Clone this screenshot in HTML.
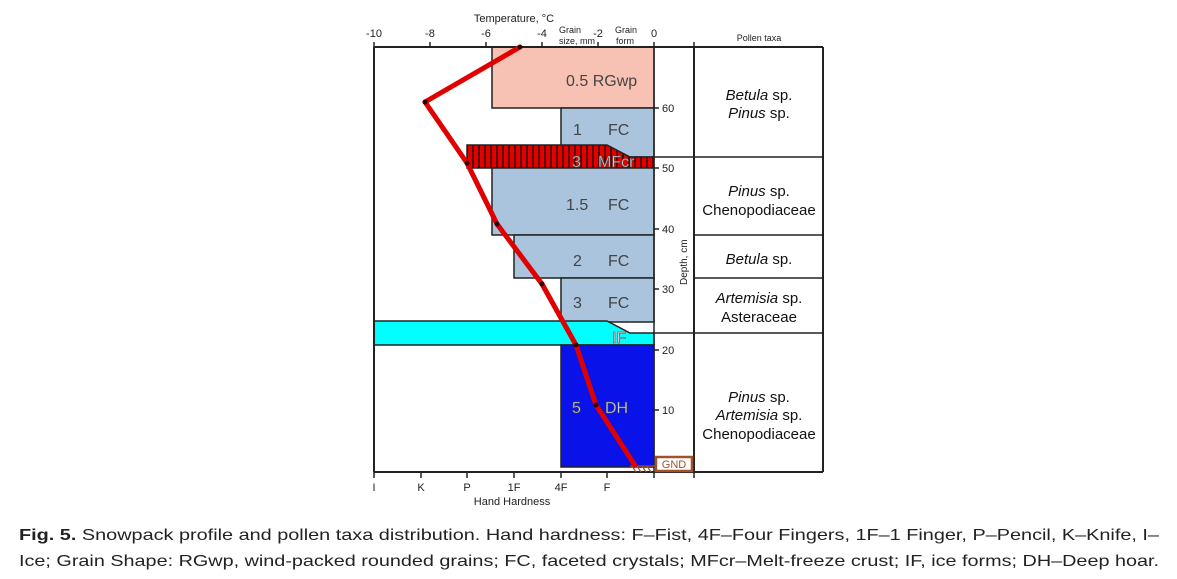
<!DOCTYPE html>
<html><head><style>
html,body{margin:0;padding:0;background:#fff;width:1177px;height:579px;overflow:hidden}
svg{display:block}
text{font-family:"Liberation Sans",Arial,sans-serif}
</style></head><body>
<svg width="1177" height="579" viewBox="0 0 1177 579" xmlns="http://www.w3.org/2000/svg">
<defs>
<pattern id="st" width="6" height="10" patternUnits="userSpaceOnUse">
<rect width="6" height="10" fill="#e00000"/><rect x="4" width="2" height="10" fill="#5a0000"/>
</pattern>
</defs>
<rect x="492" y="47" width="162" height="61" fill="#f7c2b3" stroke="#222" stroke-width="1.5"/>
<rect x="561" y="108" width="93" height="49" fill="#a9c4dc" stroke="#222" stroke-width="1.5"/>
<polygon points="467,145 607,145 630,157 654,157 654,168 467,168" fill="url(#st)" stroke="#222" stroke-width="1.5"/>
<rect x="492" y="168" width="162" height="67" fill="#a9c4dc" stroke="#222" stroke-width="1.5"/>
<rect x="514" y="235" width="140" height="43" fill="#a9c4dc" stroke="#222" stroke-width="1.5"/>
<rect x="561" y="278" width="93" height="44" fill="#a9c4dc" stroke="#222" stroke-width="1.5"/>
<polygon points="374,321 607,321 630,333 654,333 654,345 374,345" fill="#00ffff" stroke="#222" stroke-width="1.5"/>
<rect x="561" y="345" width="93" height="122" fill="#0a12ea" stroke="#222" stroke-width="1.5"/>
<line x1="374" y1="47" x2="823" y2="47" stroke="#222" stroke-width="2"/>
<line x1="374" y1="47" x2="374" y2="472" stroke="#222" stroke-width="2"/>
<line x1="374" y1="472" x2="823" y2="472" stroke="#222" stroke-width="2"/>
<line x1="654" y1="47" x2="654" y2="472" stroke="#222" stroke-width="1.5"/>
<line x1="694" y1="47" x2="694" y2="472" stroke="#222" stroke-width="2"/>
<line x1="823" y1="47" x2="823" y2="472" stroke="#222" stroke-width="2"/>
<g stroke="#222" stroke-width="1.5">
<line x1="694" y1="157" x2="823" y2="157"/><line x1="694" y1="235" x2="823" y2="235"/>
<line x1="694" y1="278" x2="823" y2="278"/><line x1="694" y1="333" x2="823" y2="333"/>
<line x1="654" y1="157" x2="694" y2="157"/><line x1="654" y1="333" x2="694" y2="333"/>
<line x1="374" y1="42" x2="374" y2="47"/><line x1="430" y1="42" x2="430" y2="47"/><line x1="486" y1="42" x2="486" y2="47"/><line x1="542" y1="42" x2="542" y2="47"/><line x1="598" y1="42" x2="598" y2="47"/><line x1="654" y1="42" x2="654" y2="47"/><line x1="694" y1="42" x2="694" y2="47"/>
<line x1="374" y1="472" x2="374" y2="478"/><line x1="421" y1="472" x2="421" y2="478"/><line x1="467" y1="472" x2="467" y2="478"/><line x1="514" y1="472" x2="514" y2="478"/><line x1="561" y1="472" x2="561" y2="478"/><line x1="607" y1="472" x2="607" y2="478"/><line x1="654" y1="472" x2="654" y2="478"/><line x1="694" y1="472" x2="694" y2="478"/>
<line x1="654" y1="108" x2="659" y2="108"/><line x1="654" y1="168" x2="659" y2="168"/><line x1="654" y1="229" x2="659" y2="229"/><line x1="654" y1="289" x2="659" y2="289"/><line x1="654" y1="350" x2="659" y2="350"/><line x1="654" y1="410" x2="659" y2="410"/>
</g>
<rect x="656" y="457" width="36" height="14" fill="#fff" stroke="#a0522d" stroke-width="2.5"/>
<text x="674" y="468" font-size="11" fill="#a0522d" text-anchor="middle">GND</text>
<g stroke="#a0522d" stroke-width="1.2"><line x1="632" y1="466" x2="636" y2="472"/><line x1="637" y1="466" x2="641" y2="472"/><line x1="642" y1="466" x2="646" y2="472"/><line x1="647" y1="466" x2="651" y2="472"/><line x1="630" y1="466" x2="656" y2="466"/></g>
<polyline points="520,47 425,102 467,163 497,224 542,284 576,345 596,405 636,467" fill="none" stroke="#e00000" stroke-width="5" stroke-linejoin="round"/>
<g fill="#300"><circle cx="520" cy="47" r="2.5"/><circle cx="425" cy="102" r="2.5"/><circle cx="467" cy="163" r="2.5"/><circle cx="497" cy="224" r="2.5"/><circle cx="542" cy="284" r="2.5"/><circle cx="576" cy="345" r="2.5"/><circle cx="596" cy="405" r="2.5"/></g>
<g font-size="16" fill="#444">
<text x="566" y="86">0.5 RGwp</text>
<text x="573" y="135">1</text><text x="608" y="135">FC</text>
<text x="566" y="210">1.5</text><text x="608" y="210">FC</text>
<text x="573" y="266">2</text><text x="608" y="266">FC</text>
<text x="573" y="308">3</text><text x="608" y="308">FC</text>
</g>
<g font-size="16" fill="#ddd" stroke="#555" stroke-width="0.6">
<text x="572" y="167">3</text><text x="598" y="167">MFcr</text>
<text x="612" y="343">IF</text>
<text x="572" y="413">5</text><text x="605" y="413">DH</text>
</g>
<g font-size="11" fill="#222" text-anchor="middle">
<text x="514" y="22">Temperature, °C</text>
<text x="374" y="37">-10</text><text x="430" y="37">-8</text><text x="486" y="37">-6</text><text x="542" y="37">-4</text><text x="598" y="37">-2</text><text x="654" y="37">0</text>
<text x="374" y="491">I</text><text x="421" y="491">K</text><text x="467" y="491">P</text><text x="514" y="491">1F</text><text x="561" y="491">4F</text><text x="607" y="491">F</text>
<text x="512" y="505">Hand Hardness</text>
<text x="759" y="41" font-size="9">Pollen taxa</text>
</g>
<g font-size="9" fill="#222" text-anchor="middle">
<text x="570" y="33">Grain</text><text x="577" y="44">size, mm</text>
<text x="626" y="33">Grain</text><text x="625" y="44">form</text>
</g>
<g font-size="11" fill="#222">
<text x="662" y="112">60</text><text x="662" y="172">50</text><text x="662" y="233">40</text><text x="662" y="293">30</text><text x="662" y="354">20</text><text x="662" y="414">10</text>
<text transform="translate(687,285) rotate(-90)" font-size="10">Depth, cm</text>
</g>
<g font-size="15" fill="#111" text-anchor="middle">
<text x="759" y="100"><tspan font-style="italic">Betula</tspan> sp.</text>
<text x="759" y="118"><tspan font-style="italic">Pinus</tspan> sp.</text>
<text x="759" y="196"><tspan font-style="italic">Pinus</tspan> sp.</text>
<text x="759" y="215">Chenopodiaceae</text>
<text x="759" y="264"><tspan font-style="italic">Betula</tspan> sp.</text>
<text x="759" y="303"><tspan font-style="italic">Artemisia</tspan> sp.</text>
<text x="759" y="322">Asteraceae</text>
<text x="759" y="402"><tspan font-style="italic">Pinus</tspan> sp.</text>
<text x="759" y="420"><tspan font-style="italic">Artemisia</tspan> sp.</text>
<text x="759" y="439">Chenopodiaceae</text>
</g>
<g font-family="'DejaVu Sans',sans-serif" font-size="16" fill="#222">
<text x="19" y="540" textLength="1140" lengthAdjust="spacingAndGlyphs"><tspan font-weight="bold">Fig. 5.</tspan> Snowpack profile and pollen taxa distribution. Hand hardness: F–Fist, 4F–Four Fingers, 1F–1 Finger, P–Pencil, K–Knife, I–</text>
<text x="19" y="566" textLength="1140" lengthAdjust="spacingAndGlyphs">Ice; Grain Shape: RGwp, wind-packed rounded grains; FC, faceted crystals; MFcr–Melt-freeze crust; IF, ice forms; DH–Deep hoar.</text>
</g>
</svg>
</body></html>
